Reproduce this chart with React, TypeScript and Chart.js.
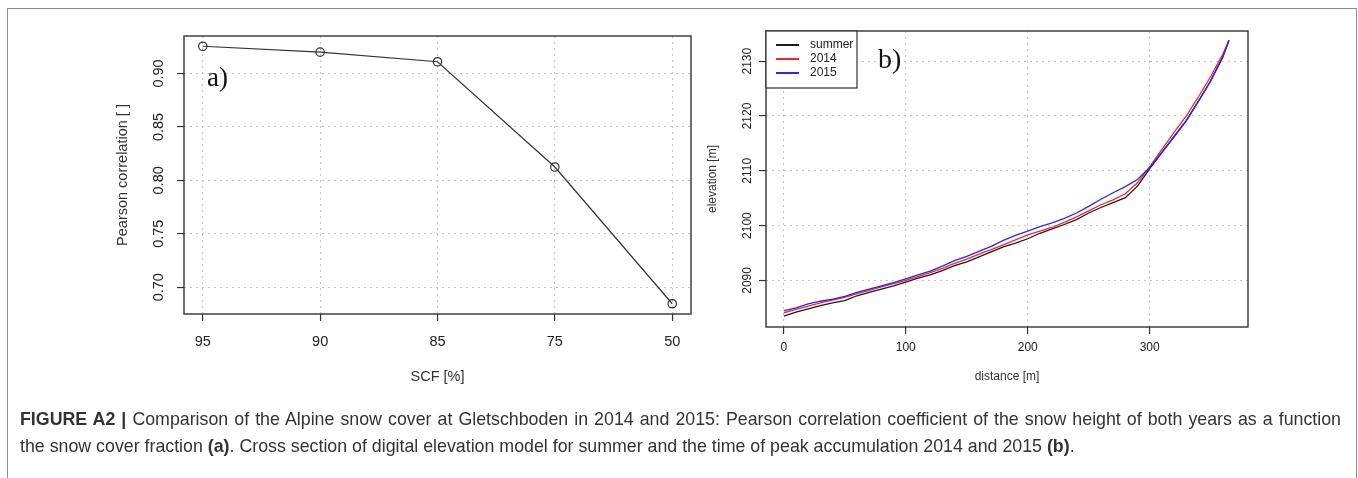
import React, { useEffect, useRef } from "react";
import { Chart, registerables } from "chart.js";
Chart.register(...registerables);

// ---- Panel a) data ----
const scfLabels = ["95", "90", "85", "75", "50"];
const pearsonValues = [0.9255, 0.92, 0.911, 0.8125, 0.6845];
const pearsonTicks = [0.7, 0.75, 0.8, 0.85, 0.9];

// ---- Panel b) data ----
const distance = [
  0, 10, 20, 30, 40, 50, 60, 70, 80, 90, 100, 110, 120, 130, 140, 150, 160, 170, 180, 190,
  200, 210, 220, 230, 240, 250, 260, 270, 280, 290, 300, 310, 320, 330, 340, 350, 360, 365,
];
const elevSummer = [
  2083.5, 2084.2, 2084.8, 2085.4, 2085.9, 2086.3, 2087.2, 2087.8, 2088.4, 2089.0, 2089.7,
  2090.4, 2091.0, 2091.8, 2092.7, 2093.4, 2094.3, 2095.2, 2096.1, 2096.8, 2097.6, 2098.6,
  2099.4, 2100.2, 2101.1, 2102.3, 2103.3, 2104.2, 2105.1, 2107.2, 2110.4, 2113.3, 2116.2,
  2119.1, 2122.7, 2126.4, 2130.9, 2133.8,
];
const elev2014 = [
  2084.1, 2084.7, 2085.3, 2085.9, 2086.4, 2086.9, 2087.6, 2088.2, 2088.8, 2089.4, 2090.0,
  2090.7, 2091.4, 2092.2, 2093.1, 2093.9, 2094.8, 2095.6, 2096.5, 2097.4, 2098.3, 2099.0,
  2099.7, 2100.6, 2101.6, 2102.7, 2103.8, 2104.7, 2105.8, 2107.8, 2110.7, 2113.9, 2117.0,
  2120.0, 2123.5, 2127.2, 2131.3, 2133.8,
];
const elev2015 = [
  2084.5, 2085.0, 2085.7, 2086.2, 2086.6, 2087.1, 2087.8, 2088.4, 2089.0, 2089.6, 2090.3,
  2091.0, 2091.7, 2092.6, 2093.6, 2094.4, 2095.3, 2096.2, 2097.3, 2098.2, 2099.0, 2099.8,
  2100.5, 2101.3, 2102.3, 2103.5, 2104.8, 2106.0, 2107.1, 2108.4, 2110.6, 2113.4, 2116.3,
  2119.2, 2122.7, 2126.4, 2130.7, 2133.8,
];
const distanceTicks = [0, 100, 200, 300];
const elevationTicks = [2090, 2100, 2110, 2120, 2130];
const seriesLabels = ["summer", "2014", "2015"];
const seriesColors = ["#1c1c1c", "#ff2222", "#2626ff"];

const W = 1358;
const H = 478;
const SANS = '"Liberation Sans", Arial, sans-serif';
const SERIF = '"Liberation Serif", "Times New Roman", serif';

const gridOpts = {
  color: "#c6c6c6",
  lineWidth: 1.1,
  drawTicks: true,
  tickLength: 7,
  tickColor: "#333",
  tickWidth: 1.2,
  tickBorderDash: [],
};
const borderOpts = { display: false, dash: [2, 4] };

function drawBox(ctx: CanvasRenderingContext2D, a: any) {
  ctx.save();
  ctx.strokeStyle = "#333";
  ctx.lineWidth = 1.4;
  ctx.strokeRect(a.left, a.top, a.right - a.left, a.bottom - a.top);
  ctx.restore();
}

function text(ctx: CanvasRenderingContext2D, s: string, x: number, y: number, font: string, color: string, align: CanvasTextAlign = "center", rot = 0) {
  ctx.save();
  ctx.font = font;
  ctx.fillStyle = color;
  ctx.textAlign = align;
  ctx.textBaseline = "middle";
  ctx.translate(x, y);
  if (rot) ctx.rotate(rot);
  ctx.fillText(s, 0, 0);
  ctx.restore();
}

const leftPlugin = {
  id: "leftDecor",
  afterDraw(chart: any) {
    const ctx = chart.ctx as CanvasRenderingContext2D;
    const a = chart.chartArea;
    drawBox(ctx, a);
    const xs = chart.scales.x;
    const ys = chart.scales.y;
    const f = `14.5px ${SANS}`;
    xs.ticks.forEach((t: any, i: number) => {
      text(ctx, scfLabels[i], xs.getPixelForValue(t.value), 342, f, "#222");
    });
    ys.ticks.forEach((t: any) => {
      text(ctx, t.value.toFixed(2), 159, ys.getPixelForValue(t.value), f, "#222", "center", -Math.PI / 2);
    });
    text(ctx, "SCF [%]", (a.left + a.right) / 2, 377, f, "#333");
    text(ctx, "Pearson correlation [ ]", 123, (a.top + a.bottom) / 2, f, "#333", "center", -Math.PI / 2);
    text(ctx, "a)", 207, 79, `27px ${SERIF}`, "#111", "left");
  },
};

const rightPlugin = {
  id: "rightDecor",
  afterDraw(chart: any) {
    const ctx = chart.ctx as CanvasRenderingContext2D;
    const a = chart.chartArea;
    drawBox(ctx, a);
    const xs = chart.scales.x;
    const ys = chart.scales.y;
    const f = `12px ${SANS}`;
    xs.ticks.forEach((t: any) => {
      text(ctx, String(t.value), xs.getPixelForValue(t.value), 348, f, "#222");
    });
    ys.ticks.forEach((t: any) => {
      text(ctx, String(t.value), 748, ys.getPixelForValue(t.value), f, "#222", "center", -Math.PI / 2);
    });
    text(ctx, "distance [m]", (a.left + a.right) / 2, 377, f, "#333");
    text(ctx, "elevation [m]", 713, (a.top + a.bottom) / 2, f, "#333", "center", -Math.PI / 2);
    text(ctx, "b)", 878, 61, `28px ${SERIF}`, "#111", "left");
    // legend
    ctx.save();
    const lx = a.left, ly = a.top, lw = 91, lh = 57;
    ctx.fillStyle = "#fff";
    ctx.fillRect(lx, ly, lw, lh);
    ctx.strokeStyle = "#333";
    ctx.lineWidth = 1.2;
    ctx.strokeRect(lx, ly, lw, lh);
    const rows = [45, 59, 73];
    chart.data.datasets.forEach((ds: any, i: number) => {
      ctx.strokeStyle = ds.borderColor;
      ctx.lineWidth = 2;
      ctx.beginPath();
      ctx.moveTo(lx + 10, rows[i]);
      ctx.lineTo(lx + 33, rows[i]);
      ctx.stroke();
      text(ctx, ds.label, lx + 44, rows[i], f, "#222", "left");
    });
    ctx.restore();
  },
};

function LeftChart() {
  const ref = useRef<HTMLCanvasElement>(null);
  useEffect(() => {
    const chart = new Chart(ref.current!, {
      type: "line",
      data: {
        datasets: [
          {
            label: "Pearson",
            data: scfLabels.map((_, i) => ({ x: i + 1, y: pearsonValues[i] })),
            borderColor: "#333",
            borderWidth: 1.2,
            pointRadius: 4.2,
            pointBorderWidth: 1.2,
            pointBorderColor: "#333",
            pointBackgroundColor: "rgba(0,0,0,0)",
            tension: 0,
          },
        ],
      },
      options: {
        responsive: false,
        animation: false,
        devicePixelRatio: 1,
        events: [],
        layout: { padding: { left: 0, top: 36, right: W - 691, bottom: 0 } },
        plugins: { legend: { display: false }, tooltip: { enabled: false } },
        scales: {
          x: {
            type: "linear",
            min: 0.84,
            max: 5.16,
            afterBuildTicks: (s: any) => {
              s.ticks = scfLabels.map((_, i) => ({ value: i + 1 }));
            },
            afterFit: (s: any) => {
              s.height = H - 314;
            },
            ticks: { display: false },
            grid: gridOpts,
            border: borderOpts,
          },
          y: {
            type: "linear",
            min: 0.6749,
            max: 0.9351,
            afterBuildTicks: (s: any) => {
              s.ticks = pearsonTicks.map((v) => ({ value: v }));
            },
            afterFit: (s: any) => {
              s.width = 184;
            },
            ticks: { display: false },
            grid: gridOpts,
            border: borderOpts,
          },
        },
      } as any,
      plugins: [leftPlugin],
    });
    return () => chart.destroy();
  }, []);
  return <canvas ref={ref} width={W} height={H} style={{ position: "absolute", left: 0, top: 0, width: W, height: H }} />;
}

function RightChart() {
  const ref = useRef<HTMLCanvasElement>(null);
  useEffect(() => {
    const series = [elevSummer, elev2014, elev2015];
    const chart = new Chart(ref.current!, {
      type: "line",
      data: {
        datasets: series.map((vals, k) => ({
          label: seriesLabels[k],
          data: distance.map((d, i) => ({ x: d, y: vals[i] })),
          borderColor: seriesColors[k],
          borderWidth: 1.3,
          pointRadius: 0,
          tension: 0,
          order: 3 - k,
        })),
      },
      options: {
        responsive: false,
        animation: false,
        devicePixelRatio: 1,
        events: [],
        layout: { padding: { left: 0, top: 31, right: W - 1248, bottom: 0 } },
        plugins: { legend: { display: false }, tooltip: { enabled: false } },
        scales: {
          x: {
            type: "linear",
            min: -14.6,
            max: 380.6,
            afterBuildTicks: (s: any) => {
              s.ticks = distanceTicks.map((v) => ({ value: v }));
            },
            afterFit: (s: any) => {
              s.height = H - 327;
            },
            ticks: { display: false },
            grid: gridOpts,
            border: borderOpts,
          },
          y: {
            type: "linear",
            min: 2081.5,
            max: 2135.5,
            afterBuildTicks: (s: any) => {
              s.ticks = elevationTicks.map((v) => ({ value: v }));
            },
            afterFit: (s: any) => {
              s.width = 766;
            },
            ticks: { display: false },
            grid: gridOpts,
            border: borderOpts,
          },
        },
      } as any,
      plugins: [rightPlugin],
    });
    return () => chart.destroy();
  }, []);
  return <canvas ref={ref} width={W} height={H} style={{ position: "absolute", left: 0, top: 0, width: W, height: H }} />;
}

export default function App() {
  const cap: React.CSSProperties = {
    position: "absolute",
    left: 20,
    fontFamily: SANS,
    fontSize: 17.8,
    lineHeight: "26px",
    color: "#333",
    whiteSpace: "nowrap",
  };
  return (
    <div style={{ position: "fixed", left: 0, top: 0, width: W, height: H, overflow: "hidden", background: "#fff" }}>
      <div
        style={{
          position: "absolute",
          left: 7,
          top: 8,
          width: 1350,
          height: 520,
          border: "1.5px solid #8c8c8c",
          boxSizing: "border-box",
        }}
      />
      <LeftChart />
      <RightChart />
      <div style={{ ...cap, top: 406, width: 1321, textAlign: "justify", textAlignLast: "justify" as any, whiteSpace: "normal" }}>
        <b>FIGURE A2 |</b> Comparison of the Alpine snow cover at Gletschboden in 2014 and 2015: Pearson correlation coefficient of the snow height of both years as a function
      </div>
      <div style={{ ...cap, top: 433 }}>
        the snow cover fraction <b>(a)</b>. Cross section of digital elevation model for summer and the time of peak accumulation 2014 and 2015 <b>(b)</b>.
      </div>
    </div>
  );
}
